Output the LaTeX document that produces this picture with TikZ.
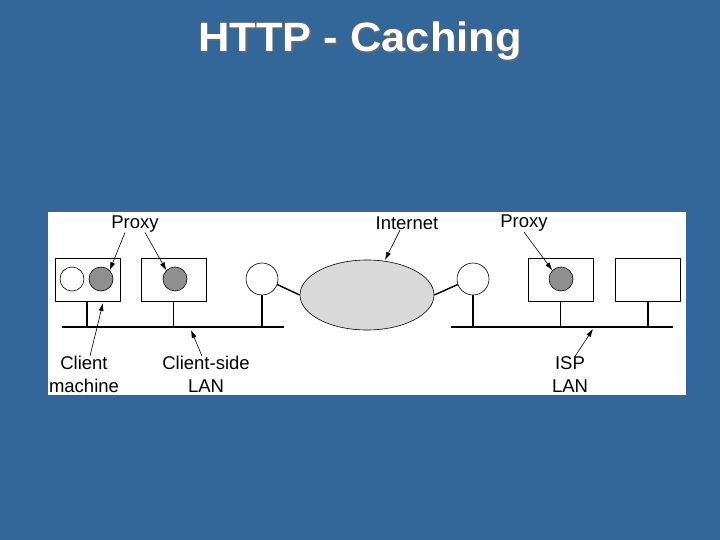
\documentclass[tikz,border=0pt]{standalone}
\usepackage{fontspec}
\setmainfont{Liberation Sans}
\usepackage{tikz}
\usetikzlibrary{positioning, arrows.meta, shapes.geometric, calc}
\definecolor{cSlide}{HTML}{336699}
\definecolor{cHost} {HTML}{8F8F8F}
\definecolor{cNet}  {HTML}{D9D9D9}

\begin{document}
\begin{tikzpicture}[x=1pt, y=-1pt,
    hostbox/.style={draw, line width=0.6pt, fill=white, minimum width=65pt, minimum height=43pt},
    station/.style={circle, draw, line width=0.6pt, fill=white, minimum size=24pt, inner sep=0pt},
    proxydot/.style={station, fill=cHost},
    router/.style={circle, draw, line width=0.6pt, fill=white, minimum size=32pt, inner sep=0pt},
    bus/.style={line width=1.4pt},
    pointer/.style={line width=0.6pt, -{Latex[length=8pt, width=5pt]}},
    lbl/.style={font=\fontsize{18.5}{22}\selectfont, align=center, inner sep=0pt}]
  % slide background and white panel
  \fill[cSlide] (0,0) rectangle (720,540);
  \useasboundingbox (0,0) rectangle (720,540);
  \fill[white] (48,212) rectangle (686,395);
  % title
  \node[font=\bfseries\fontsize{41}{48}\selectfont, text=black!60, xscale=1.06] (title_shadow) at (361.5,42.5) {HTTP - Caching};
  \node[font=\bfseries\fontsize{41}{48}\selectfont, text=white, xscale=1.06] (title) at (360,41) {HTTP - Caching};

  % client side
  \node[hostbox] (client_box) at (87.5,279.5) {};
  \node[station]  (client_pc)  at (72,279) {};
  \node[proxydot] (client_px)  at (101,279) {};
  \node[hostbox] (lan_box) at (173.5,279.5) {};
  \node[proxydot] (lan_px) at (175,279) {};
  \node[router] (router_l) at (262,279) {};
  \coordinate (bus_la) at (62,327);
  \coordinate (bus_lb) at (284,327);
  \draw[bus] (bus_la) -- (bus_lb);
  \draw[bus] (87,301) -- (87,327);
  \draw[bus] (lan_box.south) -- (lan_box.south |- bus_la);
  \draw[bus] (router_l.south) -- (router_l.south |- bus_la);

  % internet
  \node[ellipse, draw, line width=0.6pt, fill=cNet, minimum width=134pt, minimum height=70pt] (inet) at (367,295) {};
  \draw[bus] (router_l.-20) -- (inet.west);
  \node[router] (router_r) at (473,279) {};
  \draw[bus] (inet.east) -- (router_r.200);

  % ISP side
  \node[hostbox] (isp_box) at (560.5,279.5) {};
  \node[proxydot] (isp_px) at (561,279) {};
  \node[hostbox] (srv_box) at (648,279.5) {};
  \coordinate (bus_ra) at (451,327);
  \coordinate (bus_rb) at (673,327);
  \draw[bus] (bus_ra) -- (bus_rb);
  \draw[bus] (router_r.south) -- (router_r.south |- bus_ra);
  \draw[bus] (isp_box.south) -- (isp_box.south |- bus_ra);
  \draw[bus] (srv_box.south) -- (srv_box.south |- bus_ra);

  % labels
  \node[lbl] (proxy_l) at (135,224) {Proxy};
  \node[lbl] (inet_lbl) at (407,223.5) {Internet};
  \node[lbl] (proxy_r) at (524,223.5) {Proxy};
  \node[lbl] (client_lbl) at (84,374.5) {Client\\[1pt]machine};
  \node[lbl] (lan_lbl) at (206,374.5) {Client-side\\[1pt]LAN};
  \node[lbl] (isp_lbl) at (570,374.5) {ISP\\[1pt]LAN};
  \coordinate (client_tip) at (103,303);
  \coordinate (lan_tip) at (191,330);
  \coordinate (isp_tip) at (593,329);
  \coordinate (inet_tip) at (385,260);

  \draw[pointer] ([xshift=-10pt]proxy_l.south) -- (client_px.north east);
  \draw[pointer] ([xshift=10pt]proxy_l.south) -- (lan_px.north west);
  \draw[pointer] ([xshift=-7pt]inet_lbl.south) -- (inet_tip);
  \draw[pointer] (proxy_r.south) -- (isp_px.north west);
  \draw[pointer] ([xshift=6pt]client_lbl.north) -- (client_tip);
  \draw[pointer] ([xshift=-4pt]lan_lbl.north) -- (lan_tip);
  \draw[pointer] ([xshift=5pt]isp_lbl.north) -- (isp_tip);
\end{tikzpicture}
\end{document}
